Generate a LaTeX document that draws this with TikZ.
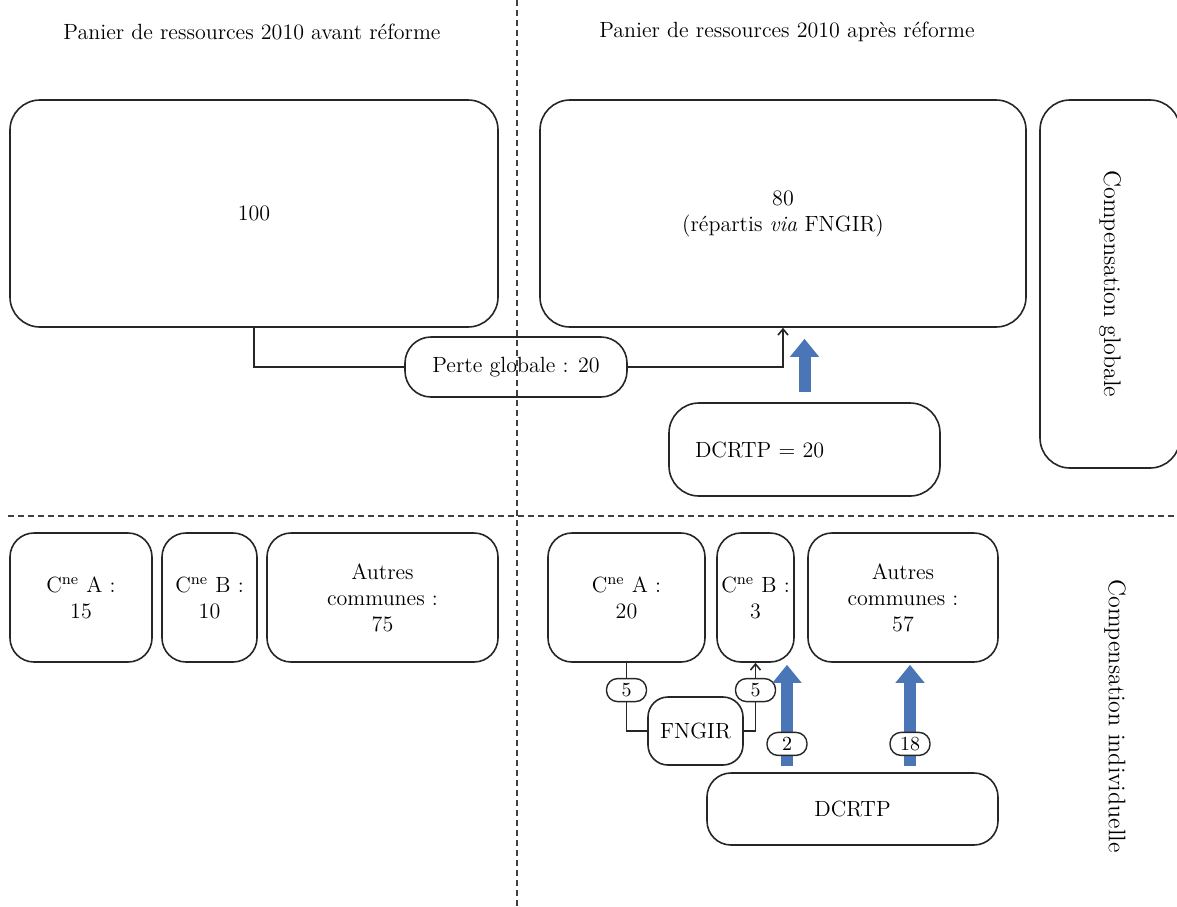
\documentclass[tikz,border=0pt]{standalone}
\usepackage{xcolor}
\usepackage{tikz}
\usetikzlibrary{arrows.meta, positioning, calc}
\definecolor{arrowblue}{RGB}{74,118,184}

\begin{document}
\begin{tikzpicture}[
    x=0.5pt, y=-0.5pt,
    font=\fontsize{11}{13}\selectfont,
    bigbox/.style={draw=black!85, line width=0.8pt, rounded corners=15pt, align=center, inner sep=0pt},
    smallbox/.style={draw=black!85, line width=0.8pt, rounded corners=12pt, align=center, inner sep=0pt},
    tag/.style={draw=black!85, line width=0.7pt, fill=white, rounded corners=5.5pt, minimum width=20pt,
                minimum height=11.5pt, inner sep=1pt, font=\fontsize{10}{11}\selectfont},
    link/.style={draw=black!85, line width=0.8pt},
    bluearrow/.style={line width=6pt, draw=arrowblue, -{Triangle[width=14pt, length=9pt]}},
    sep/.style={draw=black!75, line width=1pt, dash pattern=on 3pt off 2pt}
]
\useasboundingbox (0,0) rectangle (1177,906);

\node (tavant) at (252,32) {Panier de ressources 2010 avant réforme};
\node (tapres) at (787,32) {Panier de ressources 2010 après réforme};

\node[bigbox, minimum width=244pt, minimum height=113.5pt] (avant) at (254,213.5) {100};
\node[bigbox, minimum width=243pt, minimum height=113.5pt] (apres) at (783,213.5)
    {80\\(répartis \textit{via} FNGIR)};
\node[bigbox, rotate=-90, minimum width=184pt, minimum height=70pt,
      font=\fontsize{12}{14}\selectfont] (compglob) at (1110,284) {Compensation globale};
\node[smallbox, rounded corners=13pt, minimum width=111pt, minimum height=30pt] (perte) at (516,367)
    {Perte globale : 20};
\node[bigbox, minimum width=135.5pt, minimum height=46.5pt, text width=109.5pt, align=left]
    (dcrtpglob) at (804.5,449.5) {DCRTP = 20};

\node[smallbox, minimum width=71pt, minimum height=64.5pt] (aavant) at (81,597.5)
    {C\textsuperscript{ne} A :\\15};
\node[smallbox, minimum width=47.5pt, minimum height=64.5pt] (bavant) at (209.5,597.5)
    {C\textsuperscript{ne} B :\\10};
\node[smallbox, minimum width=115.5pt, minimum height=64.5pt] (autresavant) at (382.5,597.5)
    {Autres\\communes :\\75};
\node[smallbox, minimum width=78.5pt, minimum height=64.5pt] (aapres) at (626.5,597.5)
    {C\textsuperscript{ne} A :\\20};
\node[smallbox, minimum width=38.5pt, minimum height=64.5pt] (bapres) at (755.5,597.5)
    {C\textsuperscript{ne} B :\\3};
\node[smallbox, minimum width=95pt, minimum height=64.5pt] (autresapres) at (903,597.5)
    {Autres\\communes :\\57};
\node[smallbox, rounded corners=10pt, minimum width=47.5pt, minimum height=34pt] (fngir) at (695.5,731)
    {FNGIR};
\node[smallbox, minimum width=145.5pt, minimum height=36pt] (dcrtp) at (852.5,809) {DCRTP};
\node[rotate=-90, font=\fontsize{12}{14}\selectfont] (compindiv) at (1115,716) {Compensation individuelle};

\coordinate (xb) at (787,0);
\coordinate (xc) at (910,0);

\draw[link] (avant.south) |- (perte.west);
\draw[link, -{Straight Barb[length=3pt, width=5pt]}] (perte.east) -| (apres.south);
\draw[bluearrow] ($(dcrtpglob.north)+(0,-10)$) -- ($(apres.south -| dcrtpglob.north)+(0,11)$);

\draw[link] (aapres.south) |- (fngir.west) node[tag, pos=0.2] {5};
\draw[link, -{Straight Barb[length=3pt, width=5pt]}] (fngir.east) -| (bapres.south) node[tag, pos=0.8] {5};
\draw[bluearrow] ($(dcrtp.north -| xb)+(0,-6)$) -- ($(bapres.south -| xb)+(0,2)$) node[tag, pos=0.22] {2};
\draw[bluearrow] ($(dcrtp.north -| xc)+(0,-6)$) -- ($(autresapres.south -| xc)+(0,2)$) node[tag, pos=0.22] {18};

\draw[sep] (517,0) -- (517,906);
\draw[sep] (8,516) -- (1177,516);
\end{tikzpicture}
\end{document}
